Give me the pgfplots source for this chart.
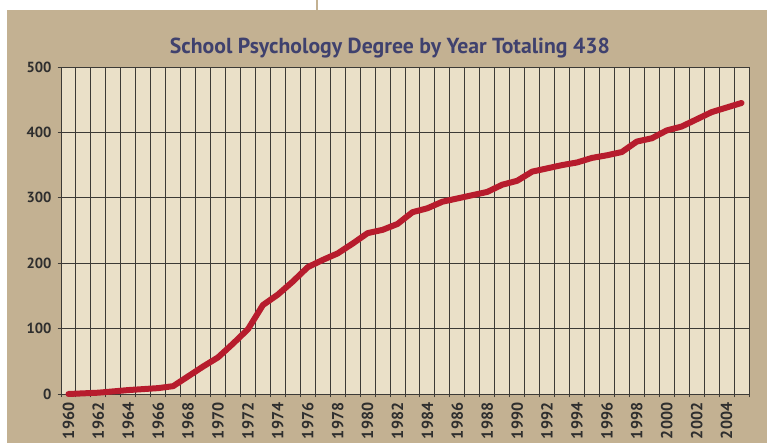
\documentclass[border=0pt]{standalone}
\usepackage{fontspec}
\setmainfont{PT Sans}
\usepackage{pgfplots}
\pgfplotsset{compat=1.18}
\definecolor{panel}{HTML}{C3B192}
\definecolor{plotbg}{HTML}{EAE0C8}
\definecolor{gridc}{HTML}{3C3A36}
\definecolor{linec}{HTML}{B71C2D}
\definecolor{titlec}{HTML}{3F416E}
\definecolor{tickc}{HTML}{2E2E2E}
\begin{document}
\begin{tikzpicture}
\useasboundingbox (0,0) rectangle (575.25pt,332.25pt);
\fill[white] (0,0) rectangle (575.25pt,332.25pt);
\fill[panel] (5.25pt,0) rectangle (575.25pt,324.75pt);
\draw[panel, line width=1.2pt] (237.75pt,324.75pt) -- (237.75pt,332.25pt);
\begin{axis}[
  at={(45.75pt,36.75pt)}, anchor=south west,
  scale only axis, width=516pt, height=245.25pt,
  xmin=1959.5, xmax=2005.5, ymin=0, ymax=500,
  axis background/.style={fill=plotbg},
  axis line style={gridc, line width=0.7pt},
  xtick={1959.5,1960.5,...,2005.6},
  xticklabels={},
  ytick={0,100,200,300,400,500},
  yticklabels={0,100,200,300,400,500},
  xmajorgrids, ymajorgrids,
  major grid style={gridc, line width=0.7pt},
  tick style={gridc, line width=0.7pt},
  tick align=outside, tick pos=left,
  major tick length=2.6pt,
  ticklabel style={font=\fontsize{11}{12}\selectfont\bfseries, text=tickc},
  yticklabel style={xshift=-1pt},
  extra x ticks={1960,1962,1964,1966,1968,1970,1972,1974,1976,1978,1980,1982,1984,1986,1988,1990,1992,1994,1996,1998,2000,2002,2004},
  extra x tick labels={1960,1962,1964,1966,1968,1970,1972,1974,1976,1978,1980,1982,1984,1986,1988,1990,1992,1994,1996,1998,2000,2002,2004},
  extra x tick style={grid=none, major tick length=0pt,
    xticklabel style={font=\fontsize{12}{13}\selectfont\bfseries, rotate=90, anchor=east, yshift=0pt, xshift=-3pt}},
  clip=false,
]
\addplot[linec, line width=4.5pt, line join=round, line cap=round] coordinates {
(1960,0) (1961,1) (1962,2) (1963,4) (1964,6) (1965,7.5) (1966,9) (1967,12)
(1968,27) (1969,42) (1970,56) (1971,77) (1972,99) (1973,136) (1974,152)
(1975,172) (1976,194) (1977,205) (1978,215) (1979,230) (1980,246) (1981,251)
(1982,260) (1983,278) (1984,284) (1985,294) (1986,299) (1987,304) (1988,309)
(1989,320) (1990,326) (1991,340) (1992,345) (1993,350) (1994,354) (1995,361)
(1996,365) (1997,370) (1998,386) (1999,391) (2000,403) (2001,409) (2002,420)
(2003,431) (2004,438) (2005,445)
};
\end{axis}
\node[text=titlec, font=\fontsize{16.3}{18}\selectfont\bfseries] at (292.5pt,296.25pt) {School Psychology Degree by Year Totaling 438};
\end{tikzpicture}
\end{document}
